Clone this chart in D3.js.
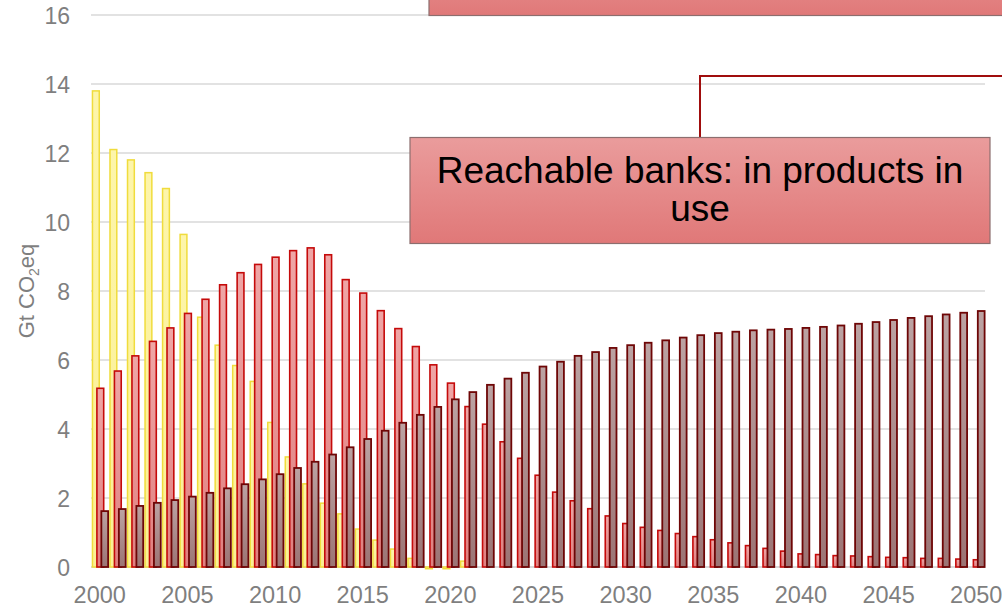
<!DOCTYPE html>
<html>
<head>
<meta charset="utf-8">
<script src="https://cdn.jsdelivr.net/npm/d3@7"></script>
<style>
  html, body { margin: 0; padding: 0; background: #fff; }
  svg { display: block; font-family: "Liberation Sans", Arial, sans-serif; }
</style>
</head>
<body>
<svg id="chart" width="1002" height="610"></svg>
<script>
const years = [2000,2001,2002,2003,2004,2005,2006,2007,2008,2009,
  2010,2011,2012,2013,2014,2015,2016,2017,2018,2019,
  2020,2021,2022,2023,2024,2025,2026,2027,2028,2029,
  2030,2031,2032,2033,2034,2035,2036,2037,2038,2039,
  2040,2041,2042,2043,2044,2045,2046,2047,2048,2049,2050];

const yellowSeries = [13.8,12.1,11.8,11.43,10.97,9.64,7.24,6.43,5.84,5.38,
  4.19,3.19,2.41,1.85,1.54,1.10,0.78,0.52,0.25,-0.05,
  -0.05,0.17,0,0,0,0,0,0,0,0,
  0,0,0,0,0,0,0,0,0,0,
  0,0,0,0,0,0,0,0,0,0,0];

const redSeries = [5.18,5.68,6.12,6.54,6.93,7.35,7.76,8.18,8.53,8.77,
  8.98,9.17,9.25,9.05,8.33,7.94,7.43,6.91,6.39,5.86,
  5.33,4.65,4.14,3.63,3.15,2.66,2.17,1.92,1.69,1.48,
  1.26,1.15,1.06,0.97,0.88,0.79,0.70,0.62,0.54,0.46,
  0.38,0.36,0.33,0.32,0.30,0.28,0.27,0.25,0.25,0.23,0.21];

const darkSeries = [1.62,1.68,1.77,1.86,1.94,2.04,2.15,2.28,2.40,2.54,
  2.69,2.87,3.05,3.26,3.47,3.71,3.95,4.18,4.41,4.64,
  4.86,5.07,5.28,5.46,5.63,5.81,5.95,6.12,6.23,6.35,
  6.43,6.50,6.57,6.65,6.72,6.78,6.82,6.86,6.88,6.90,
  6.93,6.96,7.00,7.05,7.10,7.16,7.22,7.27,7.32,7.37,7.42];

const yTicks = [0,2,4,6,8,10,12,14,16];
const xTickLabels = [2000,2005,2010,2015,2020,2025,2030,2035,2040,2045,2050];
const annotationText = ["Reachable banks: in products in", "use"];

const series = [
  {key: "yellow", values: yellowSeries, grad: "gYellow", stroke: "#f0dc3c", sw: 1.5},
  {key: "red", values: redSeries, grad: "gRed", stroke: "#c50a0a", sw: 1.6},
  {key: "dark", values: darkSeries, grad: "gDark", stroke: "#6e0606", sw: 1.8}
];

const svg = d3.select("#chart");
const defs = svg.append("defs");
function vgrad(id, c1, c2) {
  const g = defs.append("linearGradient").attr("id", id)
    .attr("x1", 0).attr("y1", 0).attr("x2", 0).attr("y2", 1);
  g.append("stop").attr("offset", "0%").attr("stop-color", c1);
  g.append("stop").attr("offset", "100%").attr("stop-color", c2);
}
vgrad("gYellow", "#fdf5ab", "#fbf094");
vgrad("gRed", "#efa6a6", "#e08080");
vgrad("gDark", "#bca3a3", "#9c7474");
vgrad("gBox", "#ea9c9c", "#e07878");

const plotLeft = 91, plotRight = 985, plotTop = 15, plotBottom = 567;

const x = d3.scaleBand().domain(years).range([plotLeft, plotRight]).paddingInner(0).paddingOuter(0);
const y = d3.scaleLinear().domain([0, 16]).range([plotBottom, plotTop]);
const bw = x.bandwidth();
const sub = d3.scalePoint().domain(series.map(s => s.key)).range([0.083 * bw, 0.59 * bw]);
const barW = 0.388 * bw;

// gridlines
svg.append("g").selectAll("line").data(yTicks).join("line")
  .attr("x1", plotLeft).attr("x2", plotRight)
  .attr("y1", d => y(d)).attr("y2", d => y(d))
  .attr("stroke", "#d9d9d9").attr("stroke-width", d => d === 0 ? 2 : 1.5);

// bars
series.forEach(s => {
  svg.append("g").selectAll("rect").data(years.map((yr, i) => ({yr, v: s.values[i]}))).join("rect")
    .attr("x", d => x(d.yr) + sub(s.key))
    .attr("width", barW)
    .attr("y", d => y(Math.max(0, d.v)))
    .attr("height", d => Math.abs(y(d.v) - y(0)))
    .attr("fill", `url(#${s.grad})`)
    .attr("stroke", s.stroke)
    .attr("stroke-width", s.sw);
});

// y axis
const yAxis = svg.append("g").attr("transform", `translate(70,0)`)
  .call(d3.axisLeft(y).tickValues(yTicks).tickSize(0).tickPadding(0).tickFormat(d3.format("d")));
yAxis.select(".domain").remove();
yAxis.selectAll("text").attr("fill", "#7f7f7f").style("font-size", "23px")
  .style("font-family", "'Liberation Sans', Arial, sans-serif").attr("dy", "0.35em");

// x axis
const xAxis = svg.append("g").attr("transform", `translate(0,${plotBottom})`)
  .call(d3.axisBottom(x).tickValues(xTickLabels).tickSize(0).tickPadding(0));
xAxis.select(".domain").remove();
xAxis.selectAll("text").attr("fill", "#7f7f7f").style("font-size", "23.5px")
  .style("font-family", "'Liberation Sans', Arial, sans-serif").attr("y", 36).attr("dy", 0);

// y label
const yl = svg.append("text").attr("transform", "translate(34,291) rotate(-90)")
  .attr("text-anchor", "middle").attr("fill", "#7f7f7f").style("font-size", "22px");
yl.append("tspan").text("Gt CO");
yl.append("tspan").text("2").style("font-size", "14px").attr("dy", 5);
yl.append("tspan").text("eq").attr("dy", -5);

// connector
svg.append("path")
  .attr("d", "M700,137 L700,76 L1004,76")
  .attr("fill", "none").attr("stroke", "#a00d0d").attr("stroke-width", 2);

// top box (cut off)
svg.append("rect").attr("x", 429).attr("y", -60).attr("width", 600).attr("height", 75.5)
  .attr("fill", "url(#gBox)").attr("stroke", "#8c6e6e").attr("stroke-width", 1.2);

// annotation box
svg.append("rect").attr("x", 410).attr("y", 137.5).attr("width", 580).attr("height", 106)
  .attr("fill", "url(#gBox)").attr("stroke", "#8c6e6e").attr("stroke-width", 1.2);
svg.append("g").selectAll("text").data(annotationText).join("text")
  .attr("x", 700).attr("y", (d, i) => 183 + i * 38)
  .attr("text-anchor", "middle").attr("fill", "#000")
  .style("font-size", "37px").text(d => d);
</script>
</body>
</html>
